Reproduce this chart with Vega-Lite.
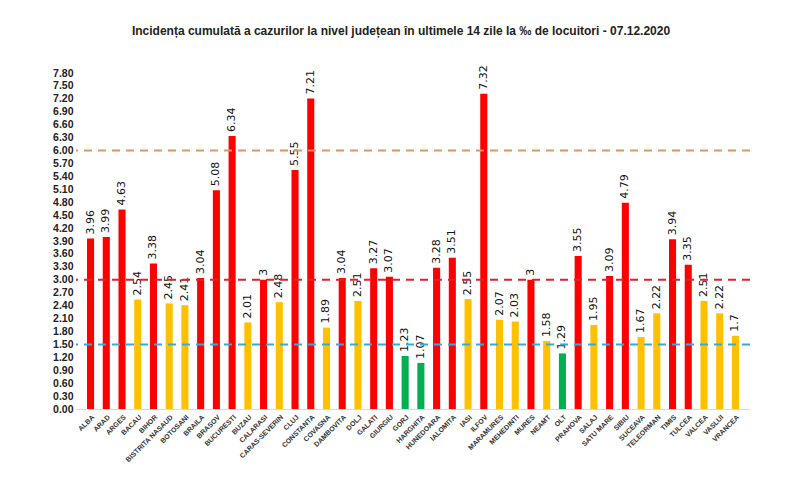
{
  "$schema": "https://vega.github.io/schema/vega-lite/v6.json",
  "autosize": "none",
  "width": 674,
  "height": 336,
  "padding": {"left": 76, "top": 73, "right": 50, "bottom": 91},
  "background": "white",
  "config": {
    "view": {"stroke": null}
  },
  "title": {
    "text": "Incidența cumulată a cazurilor la nivel județean în ultimele 14 zile la ‰ de locuitori - 07.12.2020",
    "font": "Liberation Sans",
    "fontSize": 12,
    "fontWeight": "bold",
    "color": "#222222",
    "anchor": "middle",
    "offset": 27,
    "dx": -12
  },
  "datasets": {
    "judete": [
      {"judet": "ALBA", "incidenta": 3.96, "zona": "rosu"},
      {"judet": "ARAD", "incidenta": 3.99, "zona": "rosu"},
      {"judet": "ARGES", "incidenta": 4.63, "zona": "rosu"},
      {"judet": "BACAU", "incidenta": 2.54, "zona": "galben"},
      {"judet": "BIHOR", "incidenta": 3.38, "zona": "rosu"},
      {"judet": "BISTRITA NASAUD", "incidenta": 2.45, "zona": "galben"},
      {"judet": "BOTOSANI", "incidenta": 2.41, "zona": "galben"},
      {"judet": "BRAILA", "incidenta": 3.04, "zona": "rosu"},
      {"judet": "BRASOV", "incidenta": 5.08, "zona": "rosu"},
      {"judet": "BUCURESTI", "incidenta": 6.34, "zona": "rosu"},
      {"judet": "BUZAU", "incidenta": 2.01, "zona": "galben"},
      {"judet": "CALARASI", "incidenta": 3, "zona": "rosu"},
      {"judet": "CARAS-SEVERIN", "incidenta": 2.48, "zona": "galben"},
      {"judet": "CLUJ", "incidenta": 5.55, "zona": "rosu"},
      {"judet": "CONSTANTA", "incidenta": 7.21, "zona": "rosu"},
      {"judet": "COVASNA", "incidenta": 1.89, "zona": "galben"},
      {"judet": "DAMBOVITA", "incidenta": 3.04, "zona": "rosu"},
      {"judet": "DOLJ", "incidenta": 2.51, "zona": "galben"},
      {"judet": "GALATI", "incidenta": 3.27, "zona": "rosu"},
      {"judet": "GIURGIU", "incidenta": 3.07, "zona": "rosu"},
      {"judet": "GORJ", "incidenta": 1.23, "zona": "verde"},
      {"judet": "HARGHITA", "incidenta": 1.07, "zona": "verde"},
      {"judet": "HUNEDOARA", "incidenta": 3.28, "zona": "rosu"},
      {"judet": "IALOMITA", "incidenta": 3.51, "zona": "rosu"},
      {"judet": "IASI", "incidenta": 2.55, "zona": "galben"},
      {"judet": "ILFOV", "incidenta": 7.32, "zona": "rosu"},
      {"judet": "MARAMURES", "incidenta": 2.07, "zona": "galben"},
      {"judet": "MEHEDINTI", "incidenta": 2.03, "zona": "galben"},
      {"judet": "MURES", "incidenta": 3, "zona": "rosu"},
      {"judet": "NEAMT", "incidenta": 1.58, "zona": "galben"},
      {"judet": "OLT", "incidenta": 1.29, "zona": "verde"},
      {"judet": "PRAHOVA", "incidenta": 3.55, "zona": "rosu"},
      {"judet": "SALAJ", "incidenta": 1.95, "zona": "galben"},
      {"judet": "SATU MARE", "incidenta": 3.09, "zona": "rosu"},
      {"judet": "SIBIU", "incidenta": 4.79, "zona": "rosu"},
      {"judet": "SUCEAVA", "incidenta": 1.67, "zona": "galben"},
      {"judet": "TELEORMAN", "incidenta": 2.22, "zona": "galben"},
      {"judet": "TIMIS", "incidenta": 3.94, "zona": "rosu"},
      {"judet": "TULCEA", "incidenta": 3.35, "zona": "rosu"},
      {"judet": "VALCEA", "incidenta": 2.51, "zona": "galben"},
      {"judet": "VASLUI", "incidenta": 2.22, "zona": "galben"},
      {"judet": "VRANCEA", "incidenta": 1.7, "zona": "galben"}
    ],
    "praguri": [
      {"prag": 6.0, "tip": "6"},
      {"prag": 3.0, "tip": "3"},
      {"prag": 1.5, "tip": "1.5"}
    ]
  },
  "layer": [
    {
      "data": {"name": "judete"},
      "mark": {"type": "bar"},
      "encoding": {
        "x": {
          "field": "judet",
          "type": "nominal",
          "sort": null,
          "scale": {"paddingInner": 0.55, "paddingOuter": 0.7},
          "axis": {
            "title": null,
            "labelAngle": -45,
            "labelAlign": "right",
            "labelBaseline": "top",
            "labelFont": "Liberation Sans",
            "labelFontSize": 7,
            "labelFontWeight": "bold",
            "labelColor": "#333333",
            "labelPadding": 4,
            "ticks": false,
            "domainColor": "#d9d9d9",
            "labelOverlap": false
          }
        },
        "y": {
          "field": "incidenta",
          "type": "quantitative",
          "scale": {"domain": [0, 7.8], "nice": false},
          "axis": {
            "title": null,
            "values": [0, 0.3, 0.6, 0.9, 1.2, 1.5, 1.8, 2.1, 2.4, 2.7, 3.0, 3.3, 3.6, 3.9, 4.2, 4.5, 4.8, 5.1, 5.4, 5.7, 6.0, 6.3, 6.6, 6.9, 7.2, 7.5, 7.8],
            "tickCount": 40,
            "format": ".2f",
            "labelFont": "Liberation Sans",
            "labelFontSize": 10.5,
            "labelFontWeight": "bold",
            "labelColor": "#222222",
            "labelPadding": 3,
            "ticks": false,
            "domain": false,
            "grid": false,
            "labelOverlap": false
          }
        },
        "color": {
          "field": "zona",
          "type": "nominal",
          "scale": {"domain": ["rosu", "galben", "verde"], "range": ["#FF0000", "#FFC000", "#00B050"]},
          "legend": null
        }
      }
    },
    {
      "data": {"name": "judete"},
      "mark": {
        "type": "text",
        "angle": 270,
        "align": "left",
        "baseline": "middle",
        "dx": 4,
        "font": "DejaVu Sans",
        "fontSize": 11,
        "color": "#111111"
      },
      "encoding": {
        "x": {"field": "judet", "type": "nominal", "sort": null},
        "y": {"field": "incidenta", "type": "quantitative"},
        "text": {"field": "incidenta", "type": "quantitative", "format": "~g"}
      }
    },
    {
      "data": {"name": "praguri"},
      "mark": {"type": "rule", "strokeWidth": 2, "strokeDash": [8, 6]},
      "encoding": {
        "y": {"field": "prag", "type": "quantitative"},
        "color": {
          "field": "tip",
          "type": "nominal",
          "scale": {"domain": ["6", "3", "1.5"], "range": ["#E8915A", "#D9262E", "#3BA9D6"]},
          "legend": null
        }
      }
    }
  ],
  "resolve": {"scale": {"color": "independent"}}
}
